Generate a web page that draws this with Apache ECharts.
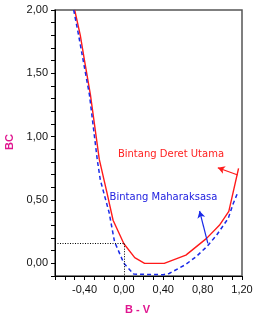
<!DOCTYPE html>
<html><head><meta charset="utf-8">
<script src="https://cdn.jsdelivr.net/npm/echarts@6/dist/echarts.min.js"></script>
<style>html,body{margin:0;padding:0;background:#fff}#c{width:266px;height:320px}</style>
</head><body><div id="c"></div>
<script>
// Bintang Deret Utama (main sequence): [B-V, BC]
const mainSeq = [[-0.50,2.00],[-0.443,1.80],[-0.40,1.60],[-0.34,1.33],[-0.25,0.82],[-0.17,0.55],[-0.11,0.34],[0.00,0.155],[0.11,0.045],[0.21,0.00],[0.41,0.00],[0.63,0.065],[0.84,0.197],[0.97,0.30],[1.066,0.41],[1.165,0.75]];
// Bintang Maharaksasa (supergiants): [B-V, BC]
const superGiant = [[-0.51,2.00],[-0.46,1.80],[-0.35,1.33],[-0.27,0.815],[-0.24,0.66],[-0.15,0.40],[-0.095,0.17],[0.00,0.00],[0.10,-0.085],[0.40,-0.09],[0.46,-0.08],[0.62,-0.013],[0.73,0.05],[0.84,0.13],[0.94,0.22],[1.06,0.355],[1.11,0.47],[1.16,0.565]];
const xTickLabels = ['-0,40','0,00','0,40','0,80','1,20'];
const yTickLabels = ['0,00','0,50','1,00','1,50','2,00'];
const refPoint = [0.00, 0.155];
const labelMain = {text:'Bintang Deret Utama', at:[-0.061,0.855]};
const labelSuper = {text:'Bintang Maharaksasa', at:[-0.145,0.513]};
const arrowMain = [[1.157,0.697],[0.954,0.755]];
const arrowSuper = [[0.853,0.158],[0.769,0.413]];

function fmt(v){return v.toFixed(2).replace('.',',');}
const chart = echarts.init(document.getElementById('c'));
chart.setOption({
  animation:false,
  grid:{left:55,top:10,right:24,bottom:44,show:true,borderColor:'#555',borderWidth:1.5,backgroundColor:'transparent'},
  xAxis:{type:'value',min:-0.7,max:1.2,interval:0.1,
    axisLine:{show:true,onZero:false,lineStyle:{color:'#000',width:1}},
    axisTick:{show:true,length:4,lineStyle:{color:'#000'}},
    splitLine:{show:false},
    axisLabel:{margin:8,color:'#111',fontFamily:'Liberation Sans',fontSize:11,
      formatter:v=>{const s=fmt(v);return xTickLabels.includes(s)?s:'';}}},
  yAxis:{type:'value',min:-0.1,max:2.0,interval:0.1,
    axisLine:{show:true,onZero:false,lineStyle:{color:'#000',width:1}},
    axisTick:{show:true,length:4,lineStyle:{color:'#000'}},
    splitLine:{show:false},
    axisLabel:{margin:7,color:'#111',fontFamily:'Liberation Sans',fontSize:11,
      formatter:v=>{const s=fmt(v);return yTickLabels.includes(s)?s:'';}}},
  series:[
    {type:'line',data:mainSeq,symbol:'none',clip:true,lineStyle:{color:'#ff1a1a',width:1.4},
      markLine:{silent:true,symbol:['none','none'],lineStyle:{color:'#000',type:[1,1.5],width:1},label:{show:false},
        data:[[{coord:[-0.7,refPoint[1]]},{coord:refPoint}],[{coord:refPoint},{coord:[refPoint[0],-0.1]}],
        ]}},
    {type:'line',data:superGiant,symbol:'none',clip:true,lineStyle:{color:'#1a2ae8',width:1.5,type:[4,3]}},
    {type:'line',data:[],markLine:{silent:true,symbol:['none','arrow'],symbolSize:[6,7],label:{show:false},
      data:[[{coord:arrowMain[0],lineStyle:{color:'#ff1a1a',width:1.2,type:'solid'}},{coord:arrowMain[1]}],
            [{coord:arrowSuper[0],lineStyle:{color:'#1a2ae8',width:1.2,type:'solid'}},{coord:arrowSuper[1]}]]}}
  ]
});
const pm = chart.convertToPixel({gridIndex:0}, labelMain.at);
const ps = chart.convertToPixel({gridIndex:0}, labelSuper.at);
chart.setOption({graphic:[
  {type:'text',left:pm[0],top:pm[1]-6,style:{text:labelMain.text,fill:'#ff2020',font:'10px "DejaVu Sans"'}},
  {type:'text',left:ps[0],top:ps[1]-6,style:{text:labelSuper.text,fill:'#2020e0',font:'10px "DejaVu Sans"'}},
  {type:'text',left:4,top:134,rotation:Math.PI/2,style:{text:'BC',fill:'#e0158f',font:'bold 11px "Liberation Sans"'}},
  {type:'text',left:125,top:304,style:{text:'B - V',fill:'#e0158f',font:'bold 11px "Liberation Sans"'}}
]});
</script></body></html>
